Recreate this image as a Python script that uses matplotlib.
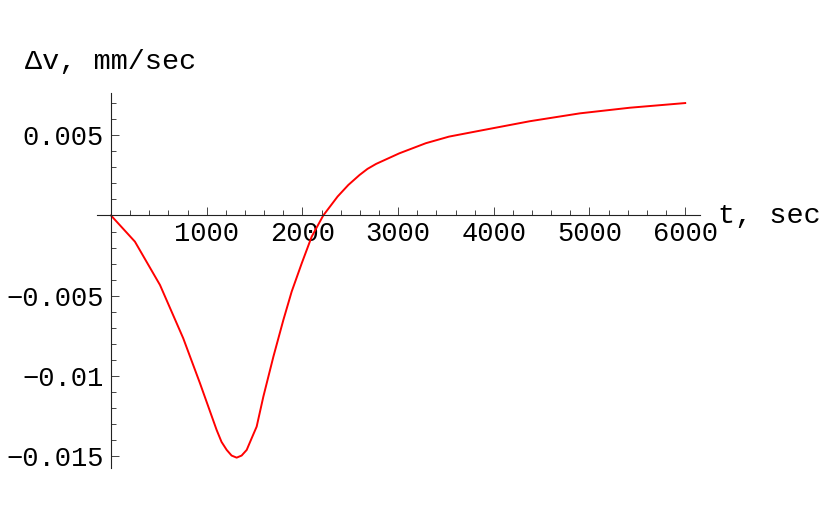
import matplotlib
matplotlib.use('Agg')
from matplotlib import pyplot as plt
from matplotlib.ticker import MultipleLocator, FixedLocator

t = [0, 250, 512, 755, 930, 1104, 1155, 1209, 1260, 1313, 1365, 1418, 1470,
     1522, 1592, 1697, 1801, 1888, 1993, 2097, 2218, 2368, 2480, 2597, 2680,
     2770, 3013, 3290, 3532, 3856, 4378, 4901, 5423, 6000]
dv = [0, -0.00163, -0.00433, -0.00765, -0.01045, -0.01336, -0.0141, -0.0146,
      -0.01495, -0.01508, -0.01495, -0.0146, -0.01387, -0.01315, -0.01128,
      -0.00879, -0.00651, -0.00474, -0.00298, -0.00132, 0.0, 0.00118, 0.0019,
      0.00252, 0.0029, 0.00321, 0.00387, 0.0045, 0.00491, 0.00528, 0.00587,
      0.00636, 0.00671, 0.007]

xticks = [1000, 2000, 3000, 4000, 5000, 6000]
yticks = [0.005, -0.005, -0.01, -0.015]
ylabels = ['0.005', '\u22120.005', '\u22120.01', '\u22120.015']

font = ['Liberation Mono', 'DejaVu Sans Mono']
plt.rcParams['font.family'] = font
plt.rcParams['font.size'] = 19.5

fig = plt.figure(figsize=(8.3, 5.13), dpi=100)
ax = fig.add_axes([0.1169, 0.0885, 0.7265, 0.7294])
ax.plot(t, dv, color='#ff0000', lw=1.4)
ax.set_xlim(-146, 6155)
ax.set_ylim(-0.0157, 0.0076)

for s in ['top', 'right']:
    ax.spines[s].set_visible(False)
ax.spines['left'].set_position(('data', 0))
ax.spines['bottom'].set_position(('data', 0))
for s in ['left', 'bottom']:
    ax.spines[s].set_linewidth(0.8)
    ax.spines[s].set_color('#222222')

ax.xaxis.set_major_locator(FixedLocator(xticks))
ax.xaxis.set_minor_locator(MultipleLocator(200))
ax.set_xticklabels([str(v) for v in xticks])
ax.yaxis.set_major_locator(FixedLocator(yticks))
ax.yaxis.set_minor_locator(MultipleLocator(0.001))
ax.set_yticklabels(ylabels)

ax.tick_params(which='both', direction='in', color='#444444', width=0.7)
ax.tick_params(which='major', length=6)
ax.tick_params(which='minor', length=3.5)
ax.tick_params(axis='x', pad=4)
ax.tick_params(axis='y', pad=5)

fig.text(25 / 830, 1 - 62 / 513, '\u0394v, mm/sec', ha='left', va='center', fontsize=20.5)
fig.text(718 / 830, 1 - 216 / 513, 't, sec', ha='left', va='center', fontsize=20.5)

fig.savefig('out.png', dpi=100)
